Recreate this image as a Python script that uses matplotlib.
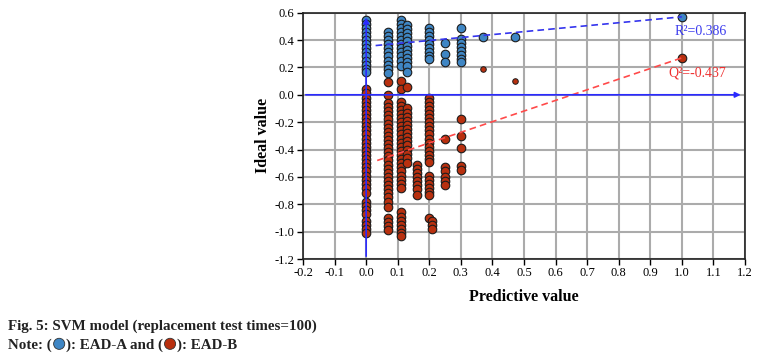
import numpy as np
import matplotlib
matplotlib.use("Agg")
import matplotlib.pyplot as plt
from matplotlib.offsetbox import TextArea, DrawingArea, HPacker, AnchoredOffsetbox
from matplotlib.patches import Circle

plt.rcParams['font.family'] = ['Liberation Serif', 'DejaVu Serif']
plt.rcParams['axes.unicode_minus'] = False

# EAD-A (blue) columns: predictive value -> ideal values
a_cols = [0.0, 0.07, 0.11, 0.13, 0.20, 0.25, 0.30, 0.37, 0.47, 1.0]
a_vals = [
    [0.55, 0.52, 0.49, 0.46, 0.43, 0.40, 0.37, 0.34, 0.31, 0.28, 0.25, 0.22, 0.19, 0.17],
    [0.46, 0.43, 0.40, 0.37, 0.34, 0.31, 0.28, 0.25, 0.22, 0.19, 0.16],
    [0.55, 0.52, 0.49, 0.46, 0.43, 0.40, 0.37, 0.34, 0.31, 0.28, 0.25, 0.21],
    [0.51, 0.48, 0.45, 0.42, 0.39, 0.36, 0.33, 0.30, 0.27, 0.24, 0.21, 0.17],
    [0.49, 0.46, 0.43, 0.40, 0.37, 0.34, 0.31, 0.28, 0.26],
    [0.38, 0.30, 0.24],
    [0.49, 0.41, 0.38, 0.35, 0.32, 0.29, 0.26, 0.24],
    [0.42],
    [0.42],
    [0.57],
]

# EAD-B (red) columns
b_cols = [0.0, 0.07, 0.11, 0.13, 0.16, 0.20, 0.21, 0.25, 0.30, 1.0]
b_vals = [
    [0.04, 0.01, -0.02, -0.05, -0.08, -0.11, -0.14, -0.17, -0.20, -0.23, -0.26, -0.29,
     -0.32, -0.35, -0.38, -0.41, -0.44, -0.47, -0.50, -0.53, -0.56, -0.59, -0.62,
     -0.65, -0.68, -0.72, -0.78, -0.81, -0.84, -0.87, -0.92, -0.95, -0.98, -1.01],
    [0.09, 0.0, -0.06, -0.09, -0.12, -0.15, -0.18, -0.21, -0.24, -0.27, -0.30, -0.33,
     -0.36, -0.39, -0.42, -0.45, -0.48, -0.51, -0.54, -0.57, -0.60, -0.63, -0.66,
     -0.69, -0.72, -0.75, -0.78, -0.82, -0.90, -0.93, -0.96, -0.99],
    [0.10, 0.04, -0.05, -0.08, -0.11, -0.14, -0.17, -0.20, -0.23, -0.26, -0.29, -0.32,
     -0.35, -0.38, -0.41, -0.44, -0.47, -0.50, -0.53, -0.56, -0.59, -0.62, -0.65,
     -0.68, -0.86, -0.89, -0.92, -0.95, -0.98, -1.01, -1.03],
    [0.055, -0.10, -0.13, -0.16, -0.19, -0.22, -0.25, -0.28, -0.31, -0.34, -0.37,
     -0.40, -0.43, -0.46, -0.50],
    [-0.51, -0.54, -0.57, -0.60, -0.63, -0.66, -0.69, -0.73],
    [-0.02, -0.05, -0.08, -0.11, -0.14, -0.17, -0.20, -0.23, -0.26, -0.29, -0.32,
     -0.35, -0.38, -0.41, -0.44, -0.47, -0.49, -0.59, -0.62, -0.65, -0.68, -0.71, -0.73, -0.90],
    [-0.92, -0.95, -0.98],
    [-0.32, -0.53, -0.56, -0.60, -0.63, -0.66],
    [-0.18, -0.30, -0.39, -0.52, -0.55],
    [0.27],
]
# two smaller red dots
b_small_x = [0.37, 0.47]
b_small_y = [0.19, 0.10]

# fitted trend lines (endpoints)
a_line_x = [0.03, 1.0]
a_line_y = [0.36, 0.57]
b_line_x = [0.035, 1.0]
b_line_y = [-0.48, 0.27]

a_x = np.concatenate([[c] * len(v) for c, v in zip(a_cols, a_vals)])
a_y = np.concatenate(a_vals)
b_x = np.concatenate([[c] * len(v) for c, v in zip(b_cols, b_vals)])
b_y = np.concatenate(b_vals)

blue = '#3f86c4'
red = '#b8300f'
edge = '#1c1c1c'

fig = plt.figure(figsize=(7.71, 3.61), dpi=100)
ax = fig.add_axes([0.393, 0.2825, 0.5733, 0.6823])

xt = np.round(np.arange(-0.2, 1.21, 0.1), 1)
yt = np.round(np.arange(-1.2, 0.61, 0.2), 1)
ax.set_xlim(-0.2, 1.2)
ax.set_ylim(-1.2, 0.6)
ax.set_xticks(xt)
ax.set_yticks(yt)
ax.set_xticklabels(['%.1f' % (t + 0.0) if abs(t) > 1e-9 else '0.0' for t in xt])
ax.set_yticklabels(['%.1f' % (t + 0.0) if abs(t) > 1e-9 else '0.0' for t in yt])
ax.grid(True, color='#ababab', linewidth=1.5, zorder=0)
ax.set_axisbelow(True)
ax.tick_params(direction='out', length=4, width=1, labelsize=9, pad=2)
for s in ax.spines.values():
    s.set_linewidth(1.2)
    s.set_color('#222222')

ax.scatter(a_x, a_y, s=38, c=blue, edgecolors=edge, linewidths=0.8, zorder=3)
ax.scatter(b_x, b_y, s=38, c=red, edgecolors=edge, linewidths=0.8, zorder=3)
ax.scatter(b_small_x, b_small_y, s=16, c=red, edgecolors=edge, linewidths=0.7, zorder=3)

ax.plot(a_line_x, a_line_y, ls=(0, (4, 2.5)), color='#3535ee', lw=1.2, zorder=4)
ax.plot(b_line_x, b_line_y, ls=(0, (4, 2.5)), color='#ff4a4a', lw=1.2, zorder=4)

# blue reference axes with arrows
axis_blue = '#2a2aff'
ax.annotate('', xy=(1.195, 0), xytext=(-0.2, 0),
            arrowprops=dict(arrowstyle='-|>', color=axis_blue, lw=1.2, mutation_scale=8), zorder=5)
ax.annotate('', xy=(0, 0.585), xytext=(0, -1.2),
            arrowprops=dict(arrowstyle='-|>', color=axis_blue, lw=1.2, mutation_scale=8), zorder=5)

ax.text(1.06, 0.46, 'R\u00b2=0.386', color='#3a3aee', fontsize=10, ha='center', va='center', zorder=6)
ax.text(1.05, 0.16, 'Q\u00b2=-0.437', color='#ee3030', fontsize=10, ha='center', va='center', zorder=6)

ax.set_xlabel('Predictive value', fontsize=11.5, fontweight='bold', labelpad=7)
ax.set_ylabel('Ideal value', fontsize=11.5, fontweight='bold', labelpad=3)

# caption
fig.text(0.011, 0.097, 'Fig. 5: SVM model (replacement test times=100)',
         fontsize=10.8, fontweight='bold', va='center', ha='left', color='#222222')


def dot(color):
    da = DrawingArea(10, 9, 0, 0)
    da.add_artist(Circle((5, 3.5), 4.0, fc=color, ec='#333333', lw=0.6))
    return da


tp = dict(fontsize=10.8, fontweight='bold', color='#222222')
parts = [TextArea('Note: (', textprops=tp), dot(blue),
         TextArea('): EAD-A and (', textprops=tp), dot(red),
         TextArea('): EAD-B', textprops=tp)]
box = HPacker(children=parts, align='baseline', pad=0, sep=0)
anch = AnchoredOffsetbox(loc='center left', child=box, pad=0, borderpad=0,
                         frameon=False, bbox_to_anchor=(0.011, 0.047),
                         bbox_transform=fig.transFigure)
fig.add_artist(anch)

fig.savefig('out.png', dpi=100)
